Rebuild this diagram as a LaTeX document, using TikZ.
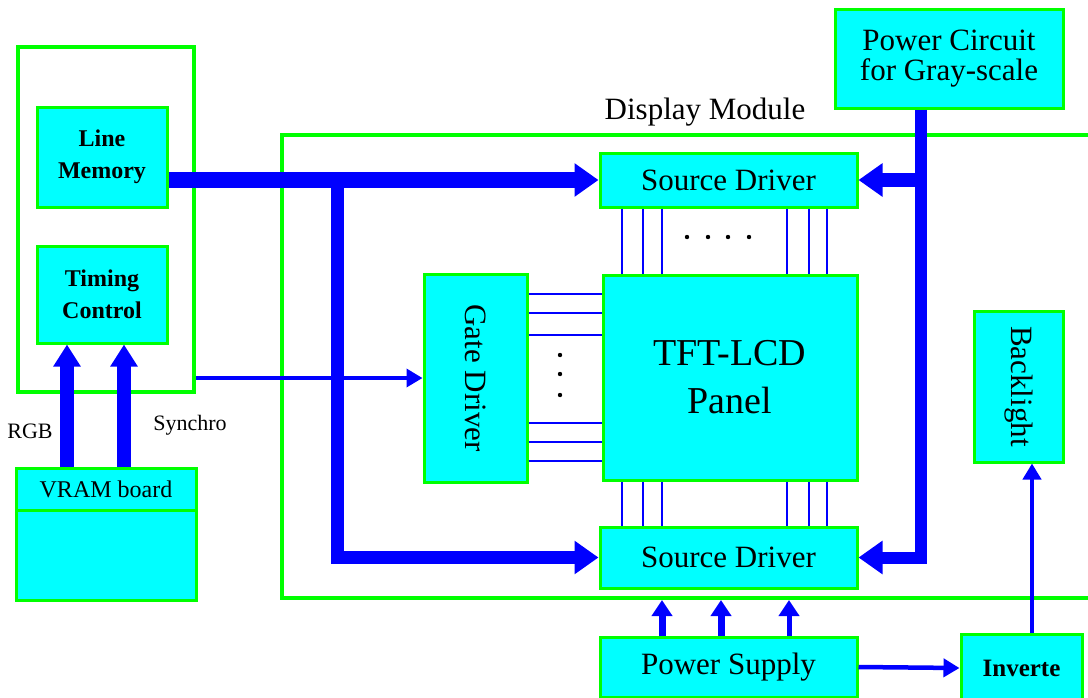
\documentclass[tikz,border=0pt]{standalone}
\usepackage{fontspec}
\setmainfont{Liberation Serif}
\newfontfamily\lcdfont{Liberation Serif}
\usetikzlibrary{arrows.meta}
\definecolor{lcdgreen}{RGB}{0,255,0}
\definecolor{lcdcyan}{RGB}{0,255,255}
\definecolor{lcdblue}{RGB}{0,0,255}

\begin{document}
\begin{tikzpicture}[x=1pt,y=-1pt,
  box/.style={draw=lcdgreen,fill=lcdcyan,line width=3pt,inner sep=0pt,align=center,
    font=\lcdfont\fontsize{31}{30}\selectfont},
  frame/.style={draw=lcdgreen,line width=4pt,inner sep=0pt},
  bus/.style={draw=lcdblue,line width=14pt,-{Triangle[width=32pt,length=24pt]}},
  sig/.style={draw=lcdblue,line width=14pt,-{Triangle[width=26pt,length=22pt]}},
  lift/.style={draw=lcdblue,-{Triangle[width=20pt,length=16pt]}},
  feed/.style={draw=lcdblue,line width=4.5pt,-{Triangle[width=18pt,length=16pt]}},
  wire/.style={draw=lcdblue,line width=1.6pt},
  lbl/.style={inner sep=0pt,font=\lcdfont\fontsize{22}{24}\selectfont}]
  \useasboundingbox (0,0) rectangle (1088,697);
  % controller side
  \node[frame,minimum width=176,minimum height=345] (ctrl) at (106,219.5) {};
  \node[box,minimum width=130,minimum height=100,font=\lcdfont\fontsize{24}{32}\selectfont\bfseries]
    (lm) at (102,157) {Line\\Memory};
  \node[box,minimum width=130,minimum height=97,font=\lcdfont\fontsize{24}{32}\selectfont\bfseries]
    (tc) at (102,294.5) {Timing\\Control};
  \node[box,minimum width=180,minimum height=42,font=\lcdfont\fontsize{24}{26}\selectfont]
    (vram) at (106,489) {VRAM board};
  \node[box,minimum width=180,minimum height=90] (vrambody) at (106,555) {};
  \node[lbl] (rgb) at (30,431) {RGB};
  \node[lbl] (sync) at (190,425) {Synchro};
  % display module
  \node[frame,minimum width=828,minimum height=463] (dm) at (696,366.5) {};
  \node[inner sep=0pt,font=\lcdfont\fontsize{31}{32}\selectfont] (dmlabel) at (705,112) {Display Module};
  \node[box,minimum width=228,minimum height=99] (pc) at (949,58.5) {Power Circuit\\for Gray-scale};
  \node[box,minimum width=257,minimum height=54] (sdt) at (728.5,180) {Source Driver};
  \node[box,minimum width=257,minimum height=61] (sdb) at (728.5,557.5) {Source Driver};
  \node[box,minimum width=254,minimum height=205,font=\lcdfont\fontsize{38}{48}\selectfont]
    (pnl) at (730,377.5) {TFT-LCD\\Panel};
  \node[box,rotate=-90,minimum width=208,minimum height=103] (gd) at (475.5,378) {Gate Driver};
  \node[box,rotate=-90,minimum width=151,minimum height=89] (bl) at (1018.5,386.5) {Backlight};
  \node[box,minimum width=257,minimum height=60] (ps) at (728.5,667) {Power Supply};
  \node[box,minimum width=121,minimum height=68,font=\lcdfont\fontsize{25}{26}\selectfont\bfseries]
    (inv) at (1021.5,668) {Inverte};
  % data and power buses
  \coordinate (br) at (337,180);
  \coordinate (pv) at (921,0);
  \coordinate (iv) at (1032,0);
  \draw[bus,line width=16pt] (lm.east |- sdt.west) -- (sdt.west);
  \draw[bus,line width=13pt] (br) |- (sdb.west);
  \draw[bus,line width=12pt] (pc.south -| pv) |- (sdb.east);
  \draw[bus] (pv |- sdt.east) -- (sdt.east);
  \foreach \x in {67,124}
    \draw[sig] (\x,0 |- vram.north) -- (\x,0 |- tc.south);
  % gd is turned, so its south side faces left
  \draw[feed,line width=3.5pt] (ctrl.east |- gd.south) -- (gd.south);
  \foreach \x/\w in {662/7,721/7,789/5}
    \draw[lift,line width=\w pt] (\x,0 |- ps.north) -- (\x,0 |- dm.south);
  \draw[feed] (ps.east) -- (inv.west);
  \draw[feed] (inv.north -| iv) -- (bl.east -| iv);
  % panel lines
  \foreach \x in {622,643,662,787,809,827} {
    \draw[wire] (\x,0 |- sdt.south) -- (\x,0 |- pnl.north);
    \draw[wire] (\x,0 |- pnl.south) -- (\x,0 |- sdb.north);
  }
  \foreach \y in {294,313,335,423,442,461}
    \draw[wire] (gd.north |- 0,\y) -- (pnl.west |- 0,\y);
  \foreach \x in {687,708,728,749}
    \fill (\x,237) circle (2.2pt);
  \foreach \y in {355,374,395}
    \fill (560,\y) circle (2.2pt);
\end{tikzpicture}
\end{document}
